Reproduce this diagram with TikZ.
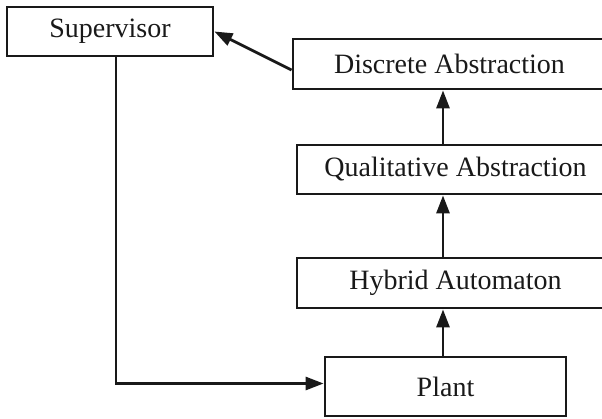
\documentclass[tikz,border=0pt]{standalone}
\usepackage{fontspec}
\setmainfont{Liberation Serif}
\usetikzlibrary{arrows.meta}
\begin{document}
\begin{tikzpicture}[x=1pt,y=-1pt,
  box/.style={draw=black!90, line width=2.8pt, inner sep=0pt,
    font=\fontsize{28}{32}\selectfont, text=black!90},
  arr/.style={draw=black!90, line width=2.8pt,
    -{Triangle[length=18pt,width=13pt]}}]
\clip (0,0) rectangle (602,418);
\useasboundingbox (0,0) rectangle (602,418);

\node[box, minimum width=206pt, minimum height=49pt] (sup) at (110,31.5) {Supervisor};
\node[box, minimum width=313pt, minimum height=50pt] (dis) at (449.5,64) {Discrete Abstraction};
\node[box, minimum width=317pt, minimum height=49pt] (qual) at (455.5,169.5) {Qualitative Abstraction};
\node[box, minimum width=317pt, minimum height=50pt] (hyb) at (455.5,283) {Hybrid Automaton};
\node[box, minimum width=241pt, minimum height=59pt] (plant) at (445.5,386.5) {Plant};

% column of the upward chain and of the control line
\coordinate (ax) at (443,0);
\coordinate (cx) at (116,0);

\draw[arr] (plant.north -| ax) -- (hyb.south -| ax);
\draw[arr] (hyb.north -| ax) -- (qual.south -| ax);
\draw[arr] (qual.north -| ax) -- (dis.south -| ax);
\draw[arr] ([yshift=-6pt]dis.west) -- (sup.east);
\draw[arr] (sup.south -| cx) |- ([yshift=3pt]plant.west);
\end{tikzpicture}
\end{document}
